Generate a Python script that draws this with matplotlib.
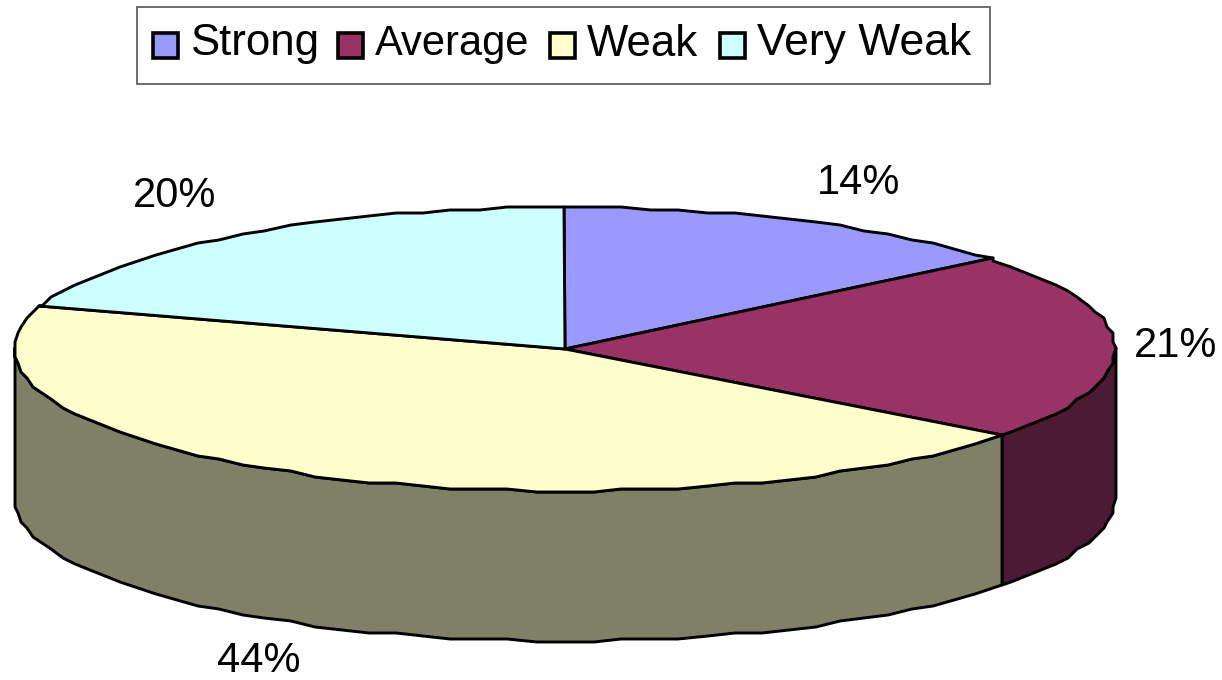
import numpy as np
import matplotlib
matplotlib.use("Agg")
import matplotlib.pyplot as plt
from matplotlib.patches import Polygon, Rectangle

plt.rcParams['font.family'] = ['Liberation Sans', 'DejaVu Sans']

categories = ["Strong", "Average", "Weak", "Very Weak"]
shares = [14, 21, 44, 20]
top_colors = ["#9999FF", "#993366", "#FFFFCC", "#CCFFFF"]
side_colors = ["#4D4D80", "#4D1A33", "#808066", "#668080"]

# label anchors in pixels, same order as categories
label_x = [859, 1176, 259, 175]
label_y = [183, 346, 661, 196]

# pie geometry in pixels
CX, CY = 565, 349
RX, RY = 550, 142
DEPTH = 150
LW = 2.1
GRID = 3  # the source outline wobbles, it was rasterised on a coarse grid

fig = plt.figure(figsize=(12.22, 6.8), dpi=100)
ax = fig.add_axes([0, 0, 1, 1])
ax.set_xlim(0, 1222)
ax.set_ylim(680, 0)
ax.axis('off')


def rim(a0, a1):
    """Points on the top ellipse, angles in degrees clockwise from 12 o'clock."""
    inner = np.arange(np.ceil(a0 / 3) * 3, a1, 3)
    t = np.radians(np.concatenate([[a0], inner, [a1]]))
    x = CX + RX * np.sin(t)
    y = CY - RY * np.cos(t)
    return np.round(x / GRID) * GRID, np.round(y / GRID) * GRID


edges = np.concatenate([[0], np.cumsum(shares)]) / sum(shares) * 360

# side wall: only the front half of the rim shows
for i in range(len(shares)):
    a0, a1 = max(edges[i], 90), min(edges[i + 1], 270)
    if a1 <= a0:
        continue
    x, y = rim(a0, a1)
    pts = np.vstack([np.column_stack([x, y]),
                     np.column_stack([x[::-1], y[::-1] + DEPTH])])
    ax.add_patch(Polygon(pts, closed=True, facecolor=side_colors[i],
                         edgecolor='black', lw=LW, joinstyle='round', zorder=2))

# top slices
for i in range(len(shares)):
    x, y = rim(edges[i], edges[i + 1])
    pts = np.vstack([[CX, CY], np.column_stack([x, y])])
    ax.add_patch(Polygon(pts, closed=True, facecolor=top_colors[i],
                         edgecolor='black', lw=LW, joinstyle='round', zorder=3))

for i in range(len(shares)):
    ax.text(label_x[i], label_y[i], f"{shares[i]}%", fontsize=30,
            ha='center', va='center', color='black', zorder=5)

# legend box drawn by hand to hold the exact spacing
ax.add_patch(Rectangle((137, 7), 853, 77, facecolor='white', edgecolor='#555555', lw=1.2, zorder=4))
swatch_x = [153, 338, 550, 720]
text_x = [190, 375, 587, 757]
text_size = [31.5, 30, 31.5, 32]
for i, name in enumerate(categories):
    ax.add_patch(Rectangle((swatch_x[i], 33), 25, 25, facecolor=top_colors[i],
                           edgecolor='black', lw=2.6, zorder=5))
    ax.text(text_x[i], 44, name, fontsize=text_size[i], ha='left', va='center', color='black', zorder=5)

fig.savefig("out.png", dpi=100, facecolor='white')
